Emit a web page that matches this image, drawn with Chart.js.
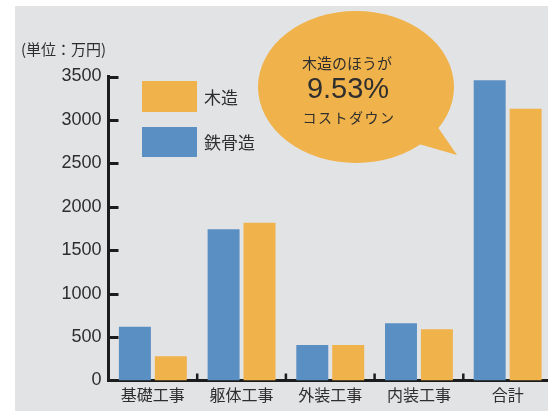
<!DOCTYPE html>
<html><head><meta charset="utf-8">
<script src="https://cdn.jsdelivr.net/npm/chart.js@4/dist/chart.umd.min.js"></script>
<style>
html,body{margin:0;padding:0;background:#fff;overflow:hidden;width:548px;height:411px}
#wrap{position:relative;width:552px;height:411px}
</style></head><body><div id="wrap"><canvas id="c" width="552" height="411"></canvas></div>
<script>
const categories = ['基礎工事','躯体工事','外装工事','内装工事','合計'];
const seriesNames = ['鉄骨造','木造'];
const steelValues = [620,1740,410,660,3457];
const woodValues = [280,1815,410,590,3128];
const yTicks = [0,500,1000,1500,2000,2500,3000,3500];
const unitLabel = '(単位：万円)';
const calloutLines = ['木造のほうが','9.53%','コストダウン'];

const BLUE = 'rgb(90,143,196)';
const ORANGE = 'rgb(240,178,74)';
const BG = 'rgb(226,227,229)';
const INK = '#2e2e2e';
const JP = '"Noto Sans CJK JP", "Noto Sans", sans-serif';
const NUM = '"Liberation Sans", Arial, sans-serif';

const decor = {
  id: 'decor',
  beforeDraw(chart) {
    const ctx = chart.ctx;
    ctx.save();
    ctx.fillStyle = '#fff';
    ctx.fillRect(0,0,chart.width,chart.height);
    ctx.fillStyle = BG;
    ctx.fillRect(15,6,chart.width-15,chart.height-6);
    ctx.fillStyle = INK;
    ctx.font = '15px ' + JP;
    ctx.textBaseline = 'middle';
    ctx.textAlign = 'left';
    ctx.fillText(unitLabel, 21, 49);
    ctx.restore();
  },
  afterDatasetsDraw(chart) {
    const ctx = chart.ctx;
    const y = chart.scales.y, x = chart.scales.x;
    const a = chart.chartArea;
    ctx.save();
    ctx.strokeStyle = '#1c1c1c';
    ctx.lineWidth = 3;
    yTicks.forEach(v => {
      if (v === 0) return;
      const py = Math.round(y.getPixelForValue(v)) + 0.5;
      ctx.beginPath(); ctx.moveTo(a.left, py); ctx.lineTo(a.left + 10, py); ctx.stroke();
    });
    ctx.lineWidth = 2.5;
    for (let i = 1; i < categories.length; i++) {
      const px = (x.getPixelForValue(i-1) + x.getPixelForValue(i)) / 2;
      ctx.beginPath(); ctx.moveTo(px, a.bottom); ctx.lineTo(px, a.bottom - 7); ctx.stroke();
    }
    // legend (wood first, then steel)
    const ds = chart.data.datasets;
    const items = [ds[1], ds[0]];
    const boxes = [[142,81,55,31],[142,127,55,30]];
    ctx.font = '17px ' + JP;
    ctx.textBaseline = 'middle';
    ctx.textAlign = 'left';
    items.forEach((d,i) => {
      const b = boxes[i];
      ctx.fillStyle = d.backgroundColor;
      ctx.fillRect(b[0],b[1],b[2],b[3]);
      ctx.fillStyle = INK;
      ctx.fillText(d.label, 204, b[1] + b[3]/2 + 1);
    });
    // callout bubble
    ctx.fillStyle = ORANGE;
    ctx.beginPath();
    ctx.ellipse(356, 87, 98, 76, 0, 0, Math.PI*2);
    ctx.fill();
    ctx.beginPath();
    ctx.moveTo(405,140); ctx.lineTo(437,126); ctx.lineTo(457,155); ctx.closePath();
    ctx.fill();
    ctx.fillStyle = INK;
    ctx.textAlign = 'center';
    ctx.font = '15px ' + JP;
    ctx.fillText(calloutLines[0], 347, 63);
    ctx.font = '29px ' + NUM;
    ctx.fillText(calloutLines[1], 348, 90);
    ctx.font = '14px ' + JP;
    if ('letterSpacing' in ctx) ctx.letterSpacing = '1.5px';
    ctx.fillText(calloutLines[2], 349, 118);
    ctx.restore();
  }
};

new Chart(document.getElementById('c'), {
  type: 'bar',
  data: {
    labels: categories,
    datasets: [
      { label: seriesNames[0], data: steelValues, backgroundColor: BLUE, categoryPercentage: 0.81, barPercentage: 0.89 },
      { label: seriesNames[1], data: woodValues, backgroundColor: ORANGE, categoryPercentage: 0.81, barPercentage: 0.89 }
    ]
  },
  options: {
    responsive: false,
    devicePixelRatio: 1,
    animation: false,
    layout: { padding: { top: 76.5, left: 0, right: 0, bottom: 0 } },
    plugins: { legend: { display: false }, tooltip: { enabled: false } },
    scales: {
      x: {
        grid: { display: false, drawTicks: false },
        border: { display: true, color: '#1c1c1c', width: 3 },
        ticks: { color: INK, font: { family: JP, size: 16 }, padding: 5, maxRotation: 0, autoSkip: false },
        afterFit: s => { s.height = 30.5; }
      },
      y: {
        min: 0, max: 3500,
        grid: { display: false, drawTicks: false },
        border: { display: true, color: '#1c1c1c', width: 3 },
        ticks: { color: INK, font: { family: NUM, size: 18 }, padding: 7, stepSize: 500, callback: v => String(v) },
        afterBuildTicks: s => { s.ticks = yTicks.map(v => ({ value: v })); },
        afterFit: s => { s.width = 108.5; }
      }
    }
  },
  plugins: [decor]
});
</script></body></html>
